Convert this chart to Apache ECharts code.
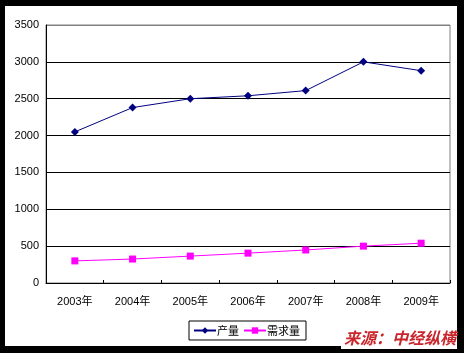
<!DOCTYPE html>
<html>
<head>
<meta charset="utf-8">
<script src="https://cdn.jsdelivr.net/npm/echarts@6/dist/echarts.min.js"></script>
<style>
  html, body { margin: 0; padding: 0; background: #000; }
  #frame { position: absolute; left: 0; top: 0; width: 464px; height: 353px; background: #000; }
  #paper { position: absolute; left: 5px; top: 6px; width: 452px; height: 340px; background: #fff; }
  #main { position: absolute; left: 0; top: 0; width: 464px; height: 353px; }
</style>
</head>
<body>
<div id="frame"><div id="paper"></div></div>
<div id="main"></div>
<script>
// 年份
const years = ['2003年', '2004年', '2005年', '2006年', '2007年', '2008年', '2009年'];
// 产量
const output = [2050, 2380, 2500, 2540, 2610, 3000, 2880];
// 需求量
const demand = [300, 325, 365, 405, 448, 500, 540];

const chart = echarts.init(document.getElementById('main'));
const labelFont = 'Liberation Sans, Arial, Noto Sans CJK SC, sans-serif';

const option = {
  animation: false,
  backgroundColor: 'transparent',
  grid: {
    left: 46,
    right: 14,
    top: 25,
    bottom: 70,
    show: true,
    borderColor: '#808080',
    borderWidth: 1,
    backgroundColor: 'transparent'
  },
  legend: {
    left: 189,
    top: 321,
    itemGap: 4,
    itemWidth: 22,
    itemHeight: 8,
    padding: [4, 6, 4, 4],
    borderColor: '#000',
    borderWidth: 1,
    textStyle: {
      color: '#000',
      fontSize: 11,
      fontFamily: 'Noto Sans CJK SC',
      padding: [0, 0, 0, -4]
    },
    data: ['产量', '需求量']
  },
  xAxis: {
    type: 'category',
    boundaryGap: true,
    data: years,
    axisLine: { lineStyle: { color: '#000', width: 1 } },
    axisTick: { show: true, inside: true, length: 3, lineStyle: { color: '#000' } },
    axisLabel: {
      color: '#000',
      fontSize: 11,
      fontFamily: labelFont,
      margin: 13
    },
    splitLine: { show: false }
  },
  yAxis: {
    type: 'value',
    min: 0,
    max: 3500,
    interval: 500,
    axisLine: { show: true, lineStyle: { color: '#000', width: 1 } },
    axisTick: { show: false },
    axisLabel: {
      color: '#000',
      fontSize: 11,
      fontFamily: labelFont,
      margin: 7,
      formatter: function (v) { return String(v); }
    },
    splitLine: {
      show: true,
      lineStyle: {
        color: ['#000', '#000', '#000', '#000', '#000', '#000', '#000', '#808080'],
        width: 1
      }
    }
  },
  series: [
    {
      name: '产量',
      type: 'line',
      data: output,
      symbol: 'diamond',
      symbolSize: 8,
      color: '#000080',
      lineStyle: { color: '#000080', width: 1 },
      itemStyle: { color: '#000080' }
    },
    {
      name: '需求量',
      type: 'line',
      data: demand,
      symbol: 'rect',
      symbolSize: 7,
      color: '#ff00ff',
      lineStyle: { color: '#ff00ff', width: 1 },
      itemStyle: { color: '#ff00ff' }
    }
  ],
  graphic: [
    {
      type: 'text',
      right: 7,
      top: 329,
      z: 100,
      style: {
        text: '来源：中经纵横',
        fill: '#c8262c',
        font: 'italic bold 16px "Noto Sans CJK SC"',
        backgroundColor: '#fff',
        padding: [1, 1, 3, 3]
      }
    }
  ]
};

chart.setOption(option);
</script>
</body>
</html>
